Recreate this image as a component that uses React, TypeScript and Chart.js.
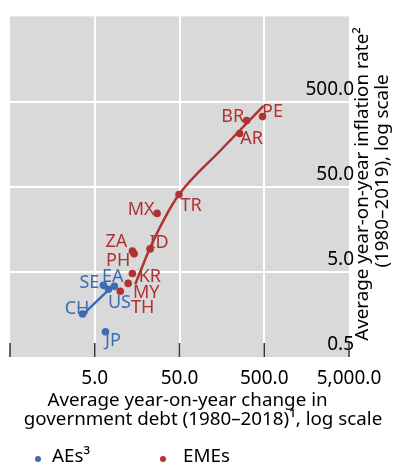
import React, { useEffect, useRef } from "react";
import { Chart, registerables } from "chart.js";

Chart.register(...registerables);

// ---- data ----
const aeCodes = ["CH", "JP", "SE", "US", "EA"];
const aeDebt = [3.59, 6.69, 6.33, 7.25, 8.52];
const aeInflation = [1.6, 0.99, 3.47, 3.12, 3.38];

const emeCodes = ["TR", "MX", "ID", "ZA", "PH", "KR", "MY", "TH", "BR", "AR", "PE"];
const emeDebt = [49.3, 27.2, 22.5, 13.9, 14.6, 13.9, 12.4, 10.0, 310, 256, 477];
const emeInflation = [40.4, 24.3, 9.3, 8.8, 8.15, 4.78, 3.66, 2.96, 299, 211, 333];

const aeFitDebt = [3.59, 8.52];
const aeFitInflation = [1.56, 3.56];
const emeFitDebt = [15.0, 19.2, 22.5, 32.9, 49.3, 153, 490];
const emeFitInflation = [3.56, 6.58, 9.57, 20.7, 40.4, 134, 446];

const axisTickValues = [0.5, 5, 50, 500, 5000];
const xTickLabels = ["", "5.0", "50.0", "500.0", "5,000.0"];
const yTickLabels = ["0.5", "5.0", "50.0", "500.0", ""];

const xTitleLines = ["Average year-on-year change in", "government debt (1980–2018)¹, log scale"];
const yTitleLines = ["Average year-on-year inflation rate²", "(1980–2019), log scale"];
const legendLabels = ["AEs³", "EMEs"];

// ---- styles ----
const FONT = '"Noto Sans", "Open Sans", sans-serif';
const BLUE = "#3a6db3";
const RED = "#b03232";
const PANEL = "#d9d9d9";

// label offsets (px) relative to each point
const aeLabelOffsets: Record<string, [number, number]> = {
  CH: [-5.5, -6.5], JP: [7.5, 8], SE: [-14, -4], EA: [-1.5, -11], US: [11, 12],
};
const emeLabelOffsets: Record<string, [number, number]> = {
  TR: [12, 10], MX: [-16, -5], ID: [9, -7], ZA: [-16, -10], PH: [-16, 5.5],
  KR: [17.5, 1.5], MY: [18, 8], TH: [22.5, 15], BR: [-14, -5], AR: [12, 4.5], PE: [10, -6],
};

const decorPlugin = {
  id: "decor",
  beforeDraw(chart: any) {
    const { ctx, chartArea: a } = chart;
    ctx.save();
    ctx.fillStyle = PANEL;
    ctx.fillRect(a.left, a.top, a.right - a.left, a.bottom - a.top);
    ctx.restore();
  },
  afterDatasetsDraw(chart: any) {
    const { ctx, chartArea: a, scales } = chart;
    ctx.save();
    // inner tick marks on the x axis
    ctx.strokeStyle = "#333";
    ctx.lineWidth = 1.5;
    axisTickValues.forEach((v) => {
      const px = scales.x.getPixelForValue(v);
      ctx.beginPath();
      ctx.moveTo(px, a.bottom - 14);
      ctx.lineTo(px, a.bottom);
      ctx.stroke();
    });
    // country labels
    ctx.font = `18px ${FONT}`;
    ctx.textAlign = "center";
    ctx.textBaseline = "alphabetic";
    const drawLabels = (codes: string[], xs: number[], ys: number[], offs: Record<string, [number, number]>, color: string) => {
      ctx.fillStyle = color;
      codes.forEach((c, i) => {
        const px = scales.x.getPixelForValue(xs[i]);
        const py = scales.y.getPixelForValue(ys[i]);
        const [dx, dy] = offs[c] || [0, 0];
        ctx.fillText(c, px + dx, py + dy + 6.5);
      });
    };
    drawLabels(aeCodes, aeDebt, aeInflation, aeLabelOffsets, BLUE);
    drawLabels(emeCodes, emeDebt, emeInflation, emeLabelOffsets, RED);

    // x axis title
    ctx.fillStyle = "#000";
    ctx.font = `18.8px ${FONT}`;
    ctx.fillText(xTitleLines[0], 187.5, 406);
    ctx.fillText(xTitleLines[1], 203, 425);

    // y axis title (rotated)
    ctx.save();
    ctx.translate(368, 184);
    ctx.rotate(-Math.PI / 2);
    ctx.fillText(yTitleLines[0], 0, 0);
    ctx.restore();
    ctx.save();
    ctx.translate(388, 171);
    ctx.rotate(-Math.PI / 2);
    ctx.fillText(yTitleLines[1], 0, 0);
    ctx.restore();

    // legend
    const legendItems = [
      { dot: 38, text: 52, color: BLUE },
      { dot: 163, text: 183, color: RED },
    ];
    ctx.textAlign = "left";
    legendItems.forEach((it, i) => {
      ctx.fillStyle = it.color;
      ctx.beginPath();
      ctx.arc(it.dot, 459, 3, 0, Math.PI * 2);
      ctx.fill();
      ctx.fillStyle = "#000";
      ctx.fillText(legendLabels[i], it.text, 462);
    });
    ctx.restore();
  },
};

export default function App() {
  const ref = useRef<HTMLCanvasElement>(null);
  useEffect(() => {
    document.body.style.margin = "0";
    const gridColor = (c: any) => {
      const v = c.tick ? c.tick.value : null;
      return v === 0.5 || v === 5000 ? "rgba(0,0,0,0)" : "#ffffff";
    };
    const chart = new Chart(ref.current as HTMLCanvasElement, {
      type: "scatter",
      data: {
        datasets: [
          {
            label: legendLabels[0],
            data: aeDebt.map((x, i) => ({ x, y: aeInflation[i] })),
            backgroundColor: BLUE,
            borderColor: BLUE,
            pointRadius: 3.8,
            pointBorderWidth: 0,
            order: 0,
          },
          {
            label: legendLabels[1],
            data: emeDebt.map((x, i) => ({ x, y: emeInflation[i] })),
            backgroundColor: RED,
            borderColor: RED,
            pointRadius: 3.8,
            pointBorderWidth: 0,
            order: 0,
          },
          {
            label: "AE fit",
            data: aeFitDebt.map((x, i) => ({ x, y: aeFitInflation[i] })),
            showLine: true,
            borderColor: BLUE,
            borderWidth: 2.5,
            pointRadius: 0,
            order: 1,
          },
          {
            label: "EME fit",
            data: emeFitDebt.map((x, i) => ({ x, y: emeFitInflation[i] })),
            showLine: true,
            borderColor: RED,
            borderWidth: 2.5,
            pointRadius: 0,
            cubicInterpolationMode: "monotone",
            order: 1,
          } as any,
        ],
      },
      options: {
        animation: false,
        responsive: false,
        layout: { padding: { left: 8, top: 11, right: 0, bottom: 79 } },
        plugins: { legend: { display: false }, tooltip: { enabled: false } },
        scales: {
          x: {
            type: "logarithmic",
            min: 0.5,
            max: 5000,
            afterBuildTicks: (s: any) => {
              s.ticks = axisTickValues.map((value) => ({ value }));
            },
            afterFit: (s: any) => {
              s.height = 30;
            },
            ticks: {
              autoSkip: false,
              maxRotation: 0,
              minRotation: 0,
              padding: 10,
              color: "#000",
              font: { family: FONT, size: 19 },
              callback: (_v: any, i: number) => xTickLabels[i],
            },
            grid: { color: gridColor, lineWidth: 2, drawTicks: false },
            border: { display: false },
          },
          y: {
            type: "logarithmic",
            position: "right",
            min: 0.5,
            max: 5000,
            afterBuildTicks: (s: any) => {
              s.ticks = axisTickValues.map((value) => ({ value }));
            },
            afterFit: (s: any) => {
              s.width = 46;
            },
            ticks: {
              mirror: true,
              padding: 5,
              labelOffset: -12,
              color: "#000",
              font: { family: FONT, size: 19 },
              callback: (_v: any, i: number) => yTickLabels[i],
            },
            grid: { color: gridColor, lineWidth: 2, drawTicks: false },
            border: { display: false },
          },
        },
      },
      plugins: [decorPlugin],
    });
    return () => chart.destroy();
  }, []);
  return (
    <div style={{ position: "fixed", left: 0, top: 0, width: 395, height: 466 }}>
      <canvas ref={ref} width={395} height={466} style={{ display: "block" }} />
    </div>
  );
}
